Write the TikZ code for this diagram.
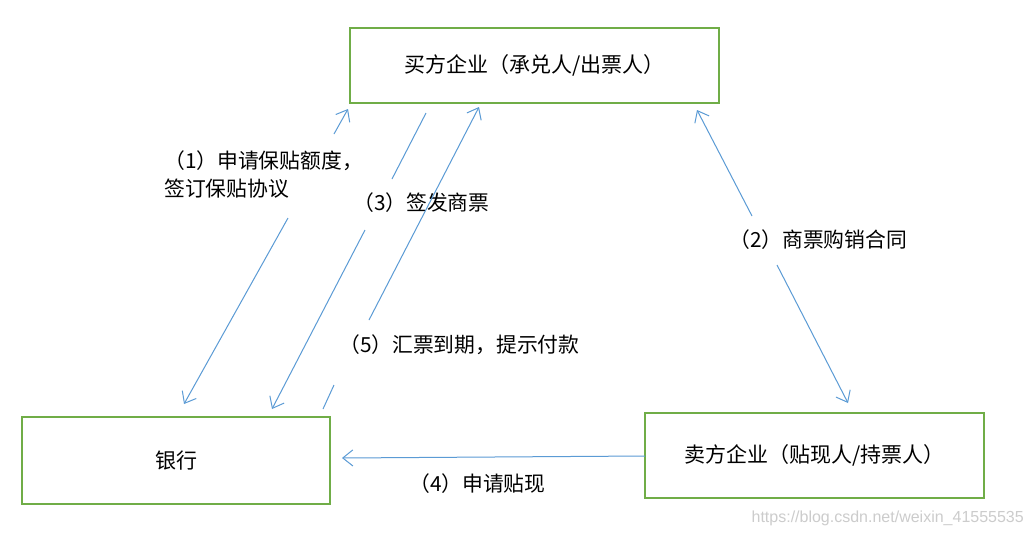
\documentclass[tikz,border=0pt]{standalone}
\usepackage{fontspec}
\setmainfont{Noto Sans CJK SC}
\newfontfamily\wmfont{Liberation Sans}
\usetikzlibrary{arrows.meta}
\definecolor{boxgreen}{HTML}{70AD47}
\definecolor{arrowblue}{HTML}{5B9BD5}
\tikzset{
  party/.style={draw=boxgreen, line width=2.5pt, rectangle, inner sep=0pt,
    font=\fontsize{21}{25}\selectfont},
  lbl/.style={inner sep=0pt, anchor=west, align=left,
    font=\fontsize{20.8}{28}\selectfont},
  link/.style={draw=arrowblue, line width=1pt},
  tip/.style={link, -{Straight Barb[length=10pt,width=16pt,line width=1pt]}}
}
\begin{document}
\begin{tikzpicture}[x=1pt,y=-1pt]
\useasboundingbox (0,0) rectangle (1033,536);
\fill[white] (0,0) rectangle (1033,536);

% boxes
\node[party, minimum width=369pt, minimum height=75pt] (buyer) at (534.5,65.5) {买方企业（承兑人/出票人）};
\node[party, minimum width=308pt, minimum height=87pt] (bank) at (176,460.5) {银行};
\node[party, minimum width=339pt, minimum height=85pt] (seller) at (814.5,455.5) {卖方企业（贴现人/持票人）};

% labels
\node[lbl] (l1) at (164,174) {（1）申请保贴额度，\\签订保贴协议};
\node[lbl] (l3) at (353,203) {（3）签发商票};
\node[lbl] (l5) at (339,345) {（5）汇票到期，提示付款};
\node[lbl] (l2) at (729,240) {（2）商票购销合同};
\node[lbl] (l4) at (409,484) {（4）申请贴现};

% coordinates
\coordinate (a1t) at (348,109);  \coordinate (a1tm) at (334,134);
\coordinate (a1bm) at (288,218); \coordinate (a1b) at (184,404);
\coordinate (a3t) at (426,113);  \coordinate (a3tm) at (392,179);
\coordinate (a3bm) at (365,230); \coordinate (a3b) at (272,409);
\coordinate (a5b) at (323,409);  \coordinate (a5bm) at (334,385);
\coordinate (a5tm) at (369,320); \coordinate (a5t) at (479,107);
\coordinate (a2t) at (697,110);  \coordinate (a2tm) at (752,216);
\coordinate (a2bm) at (777,265); \coordinate (a2b) at (848,403);
\coordinate (a4s) at (645,456);  \coordinate (a4e) at (342,458);

% connectors
\draw[tip] (a1tm) -- (a1t);
\draw[tip] (a1bm) -- (a1b);
\draw[link] (a3t) -- (a3tm);
\draw[tip] (a3bm) -- (a3b);
\draw[link] (a5b) -- (a5bm);
\draw[tip] (a5tm) -- (a5t);
\draw[tip] (a2tm) -- (a2t);
\draw[tip] (a2bm) -- (a2b);
\draw[tip] (a4s) -- (a4e);

% watermark
\node[inner sep=0pt, anchor=east, text=black!20, font=\wmfont\fontsize{16}{19}\selectfont] (wm) at (1024,518) {https://blog.csdn.net/weixin\_41555535};
\end{tikzpicture}
\end{document}
